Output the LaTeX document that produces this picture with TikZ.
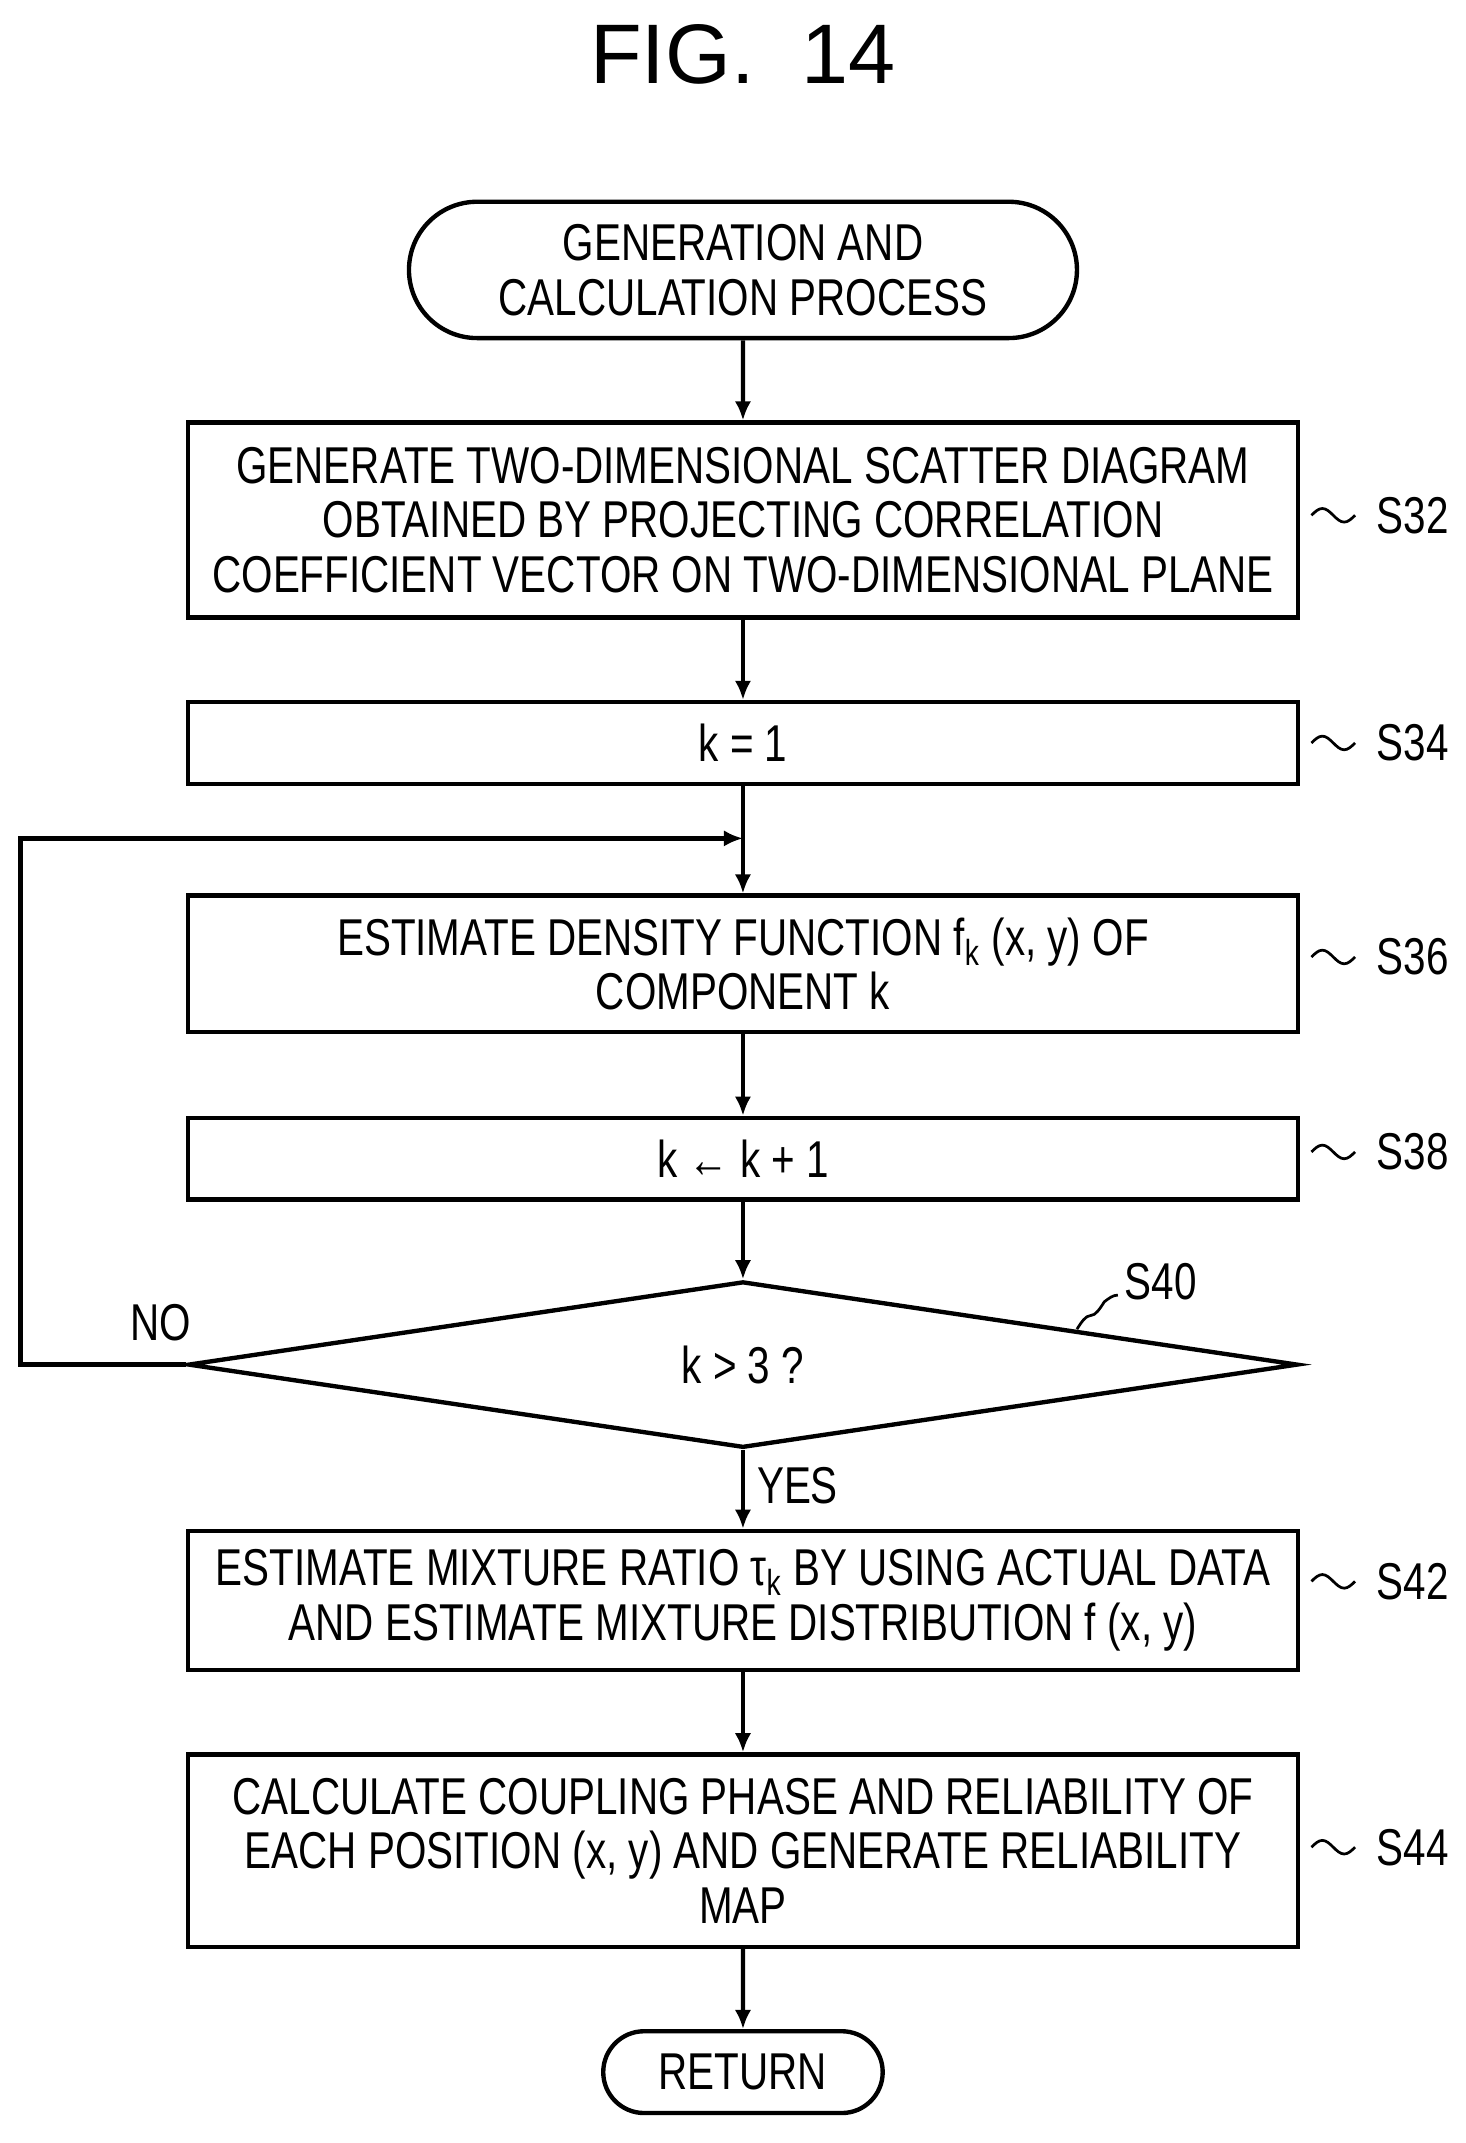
\documentclass[tikz,border=0pt]{standalone}
\usepackage{fontspec}
\setmainfont[FakeStretch=0.78]{Liberation Sans}
\newfontfamily\titlefont{Liberation Sans}
\usetikzlibrary{shapes.geometric,shapes.misc,arrows.meta}
\tikzset{
  box/.style={draw, line width=1.6pt, minimum width=814*0.5pt, align=center,
    inner sep=0pt, font=\fontsize{19}{20}\selectfont},
  term/.style={draw, line width=1.6pt, rounded rectangle, align=center,
    inner sep=0pt, font=\fontsize{19}{20}\selectfont},
  lbl/.style={font=\fontsize{19}{20}\selectfont, anchor=west},
  flow/.style={line width=1.6pt, -{Latex[length=7pt,width=6pt]}},
}
\newcommand{\wiggle}[2]{% x, y
  \draw[line width=1pt] (#1,#2) sin ++(8,-5) cos ++(8,5) sin ++(8,5) cos ++(8,-5);}
\begin{document}
\begin{tikzpicture}[x=0.5pt,y=-0.5pt]
  \useasboundingbox (0,0) rectangle (1075,1572);

  \node[font=\titlefont\fontsize{31}{34}\selectfont] (title) at (545,40) {FIG.\ \ 14};

  \node[term, minimum width=490*0.5pt, minimum height=100*0.5pt] (start) at (545,198)
    {GENERATION AND\\CALCULATION PROCESS};
  \node[box, minimum height=143*0.5pt] (s32) at (545,381.5)
    {GENERATE TWO-DIMENSIONAL SCATTER DIAGRAM\\OBTAINED BY PROJECTING CORRELATION\\COEFFICIENT VECTOR ON TWO-DIMENSIONAL PLANE};
  \node[box, minimum height=60*0.5pt] (s34) at (545,545) {k = 1};
  \node[box, minimum height=100*0.5pt] (s36) at (545,707)
    {ESTIMATE DENSITY FUNCTION f\textsubscript{k} (x, y) OF\\COMPONENT k};
  \node[box, minimum height=60*0.5pt] (s38) at (545,850) {k ← k + 1};
  \node[draw, line width=1.6pt, diamond, aspect=6.7, minimum width=814*0.5pt,
    minimum height=122*0.5pt, inner sep=0pt, font=\fontsize{19}{20}\selectfont] (s40) at (545,1001) {k > 3 ?};
  \node[box, minimum height=102*0.5pt] (s42) at (545,1174)
    {ESTIMATE MIXTURE RATIO τ\textsubscript{k} BY USING ACTUAL DATA\\AND ESTIMATE MIXTURE DISTRIBUTION f (x, y)};
  \node[box, minimum height=141*0.5pt] (s44) at (545,1357.5)
    {CALCULATE COUPLING PHASE AND RELIABILITY OF\\EACH POSITION (x, y) AND GENERATE RELIABILITY\\MAP};
  \node[term, minimum width=205*0.5pt, minimum height=60*0.5pt] (ret) at (545,1520) {RETURN};

  % arrows
  \draw[flow] (start) -- (s32);
  \draw[flow] (s32) -- (s34);
  \draw[flow] (s34) -- (s36);
  \draw[flow] (s36) -- (s38);
  \draw[flow] (s38) -- (s40);
  \draw[flow] (s40) -- (s42);
  \draw[flow] (s42) -- (s44);
  \draw[flow] (s44) -- (ret);
  \coordinate (loop) at (545,615);
  \draw[flow] (s40.west) -- (15,1001) -- (15,615) -- (loop);

  \node[lbl, anchor=center] (no) at (118,970) {NO};
  \node[lbl, anchor=center] (yes) at (585,1090) {YES};

  % step labels
  \node[lbl] (l32) at (1003,378) {S32};  \wiggle{962}{378}
  \node[lbl] (l34) at (1003,545) {S34};  \wiggle{962}{545}
  \node[lbl] (l36) at (1003,702) {S36};  \wiggle{962}{702}
  \node[lbl] (l38) at (1003,845) {S38};  \wiggle{962}{845}
  \node[lbl] (l40) at (818,940) {S40};
  \draw[line width=1pt] (790,975) sin (800,965) cos (810,955) sin (820,950);
  \node[lbl] (l42) at (1003,1160) {S42}; \wiggle{962}{1160}
  \node[lbl] (l44) at (1003,1355) {S44}; \wiggle{962}{1355}
\end{tikzpicture}
\end{document}
